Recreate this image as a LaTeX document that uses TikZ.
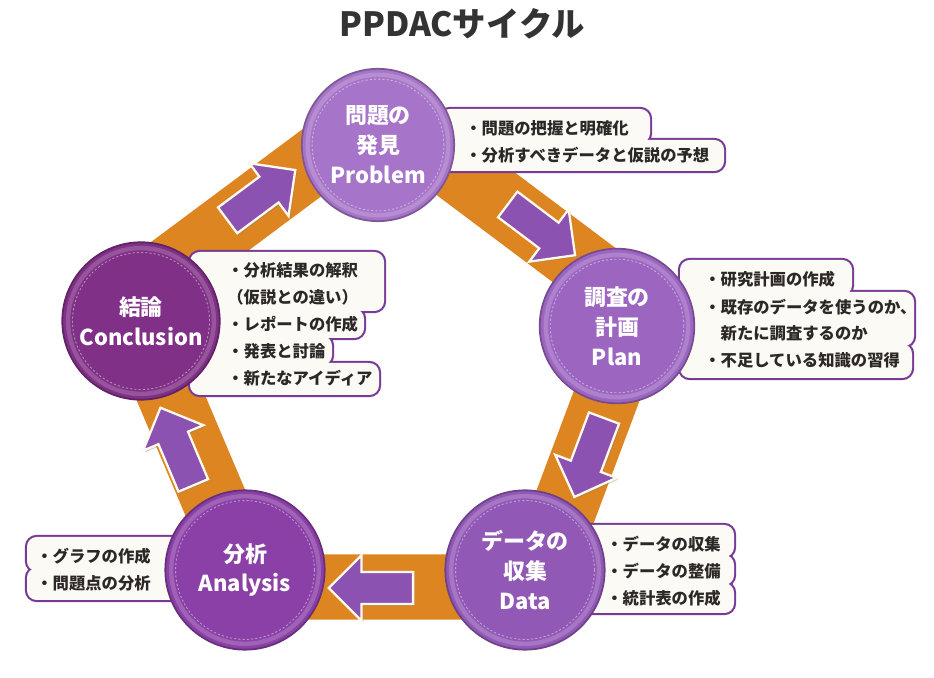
\documentclass[tikz,border=0pt]{standalone}
\usepackage{fontspec}
\usepackage{xcolor}
\usepackage{tikz}
\setmainfont{Noto Sans CJK JP}
\definecolor{bandorange}{RGB}{221, 133, 32}
\definecolor{arrowpurple}{RGB}{140, 82, 178}
\definecolor{arrowcream}{RGB}{255, 250, 236}
\definecolor{probpurple}{RGB}{166, 116, 200}
\definecolor{planpurple}{RGB}{156, 102, 192}
\definecolor{datapurple}{RGB}{146, 88, 182}
\definecolor{analpurple}{RGB}{138, 64, 166}
\definecolor{concpurple}{RGB}{128, 48, 134}
\definecolor{boxline}{RGB}{120, 58, 150}
\definecolor{boxfill}{RGB}{252, 250, 245}
\definecolor{itemgray}{RGB}{45, 40, 40}
\definecolor{titlegray}{RGB}{51, 51, 51}
\usetikzlibrary{shapes.arrows, shadows, positioning}

\begin{document}
\begin{tikzpicture}[
        x=0.02cm, y=-0.02cm,
        band/.style={draw=bandorange, line width=37pt, line join=miter},
        stage/.style={circle, draw=#1!75!black, line width=1pt, fill=#1, text=white, align=center,
            font=\bfseries\fontsize{12.5}{17}\selectfont, inner sep=0pt},
        stitch/.style={draw=white, opacity=0.45, line width=0.5pt, dash pattern=on 1.2pt off 1.2pt},
        ring/.style={draw=white, opacity=0.18, line width=2.5pt},
        blockarrow/.style={single arrow, fill=arrowpurple, draw=arrowcream, line width=1.3pt,
            minimum height=48pt, inner xsep=0pt, inner ysep=8.5pt, single arrow head extend=9.5pt,
            drop shadow={shadow xshift=1pt, shadow yshift=-1pt, opacity=0.35}},
        boxedge/.style={draw=boxline, line width=2.4pt, rounded corners=5.5pt},
        boxinside/.style={fill=boxfill, rounded corners=5.5pt},
        item/.style={anchor=west, text=itemgray, font=\bfseries\fontsize{9.3}{14}\selectfont, inner sep=0pt},
        title/.style={text=titlegray, font=\bfseries\fontsize{19}{22}\selectfont}
    ]
        \useasboundingbox (0,0) rectangle (934,678);

        % orange pentagon
        \draw[band] (380,112) -- (640,307) -- (535,587) -- (251,587) -- (129,299) -- cycle;

        % arrows on the band
        \node[blockarrow, rotate=-37] (a1) at (535,225) {};
        \node[blockarrow, rotate=-110.6] (a2) at (592,450) {};
        \node[blockarrow, rotate=180] (a3) at (379,588) {};
        \node[blockarrow, rotate=112.9] (a4) at (180,454) {};
        \node[blockarrow, rotate=36.6] (a5) at (255,200) {};

        % callout boxes (outline first, then the white inside)
        \foreach \xa/\ya/\xb/\yb in {440/109/650/143, 440/140/724/171,
                                    680/260/852/295, 680/292/914/346, 680/344/912/378,
                                    190/252/384/311, 190/309/364/338, 190/336/332/365, 190/363/379/395,
                                    27/537/200/571, 27/568/200/600,
                                    580/525/734/557, 580/555/734/585, 580/583/734/613}
            \draw[boxedge] (\xa,\ya) rectangle (\xb,\yb);
        \foreach \xa/\ya/\xb/\yb in {440/109/650/143, 440/140/724/171,
                                    680/260/852/295, 680/292/914/346, 680/344/912/378,
                                    190/252/384/311, 190/309/364/338, 190/336/332/365, 190/363/379/395,
                                    27/537/200/571, 27/568/200/600,
                                    580/525/734/557, 580/555/734/585, 580/583/734/613}
            \fill[boxinside] (\xa,\ya) rectangle (\xb,\yb);

        % stages
        \node[stage=probpurple, minimum size=86.7pt] (prob) at (378,145) {問題の\\発見\\Problem};
        \node[stage=planpurple, minimum size=88pt] (plan) at (617,326) {調査の\\計画\\Plan};
        \node[stage=datapurple, minimum size=90.7pt] (data) at (525,570) {データの\\収集\\Data};
        \node[stage=analpurple, minimum size=90.7pt] (anal) at (245,570) {分析\\Analysis};
        \node[stage=concpurple, minimum size=89.6pt] (conc) at (141,321) {結論\\Conclusion};
        \foreach \n/\r in {prob/40, plan/40.5, data/42, anal/42, conc/41.5} {
            \draw[ring] (\n.center) circle[radius=\r pt];
            \draw[stitch] (\n.center) circle[radius=\r pt - 2.5pt];
        }

        % items
        \node[item] (p1) at (465,128) {・問題の把握と明確化};
        \node[item] (p2) at (465,155) {・分析すべきデータと仮説の予想};
        \node[item] (l1) at (704,279) {・研究計画の作成};
        \node[item] (l2) at (704,307) {・既存のデータを使うのか、};
        \node[item] (l3) at (704,333) {\hphantom{・}新たに調査するのか};
        \node[item] (l4) at (704,360) {・不足している知識の習得};
        \node[item] (c1) at (227,270) {・分析結果の解釈};
        \node[item] (c2) at (227,297) {（仮説との違い）};
        \node[item] (c3) at (227,324) {・レポートの作成};
        \node[item] (c4) at (227,351) {・発表と討論};
        \node[item] (c5) at (227,378) {・新たなアイディア};
        \node[item] (n1) at (36,556) {・グラフの作成};
        \node[item] (n2) at (36,583) {・問題点の分析};
        \node[item] (d1) at (606,544) {・データの収集};
        \node[item] (d2) at (606,571) {・データの整備};
        \node[item] (d3) at (606,598) {・統計表の作成};

        \node[title] (ttl) at (462,24) {PPDACサイクル};

    \end{tikzpicture}
\end{document}
